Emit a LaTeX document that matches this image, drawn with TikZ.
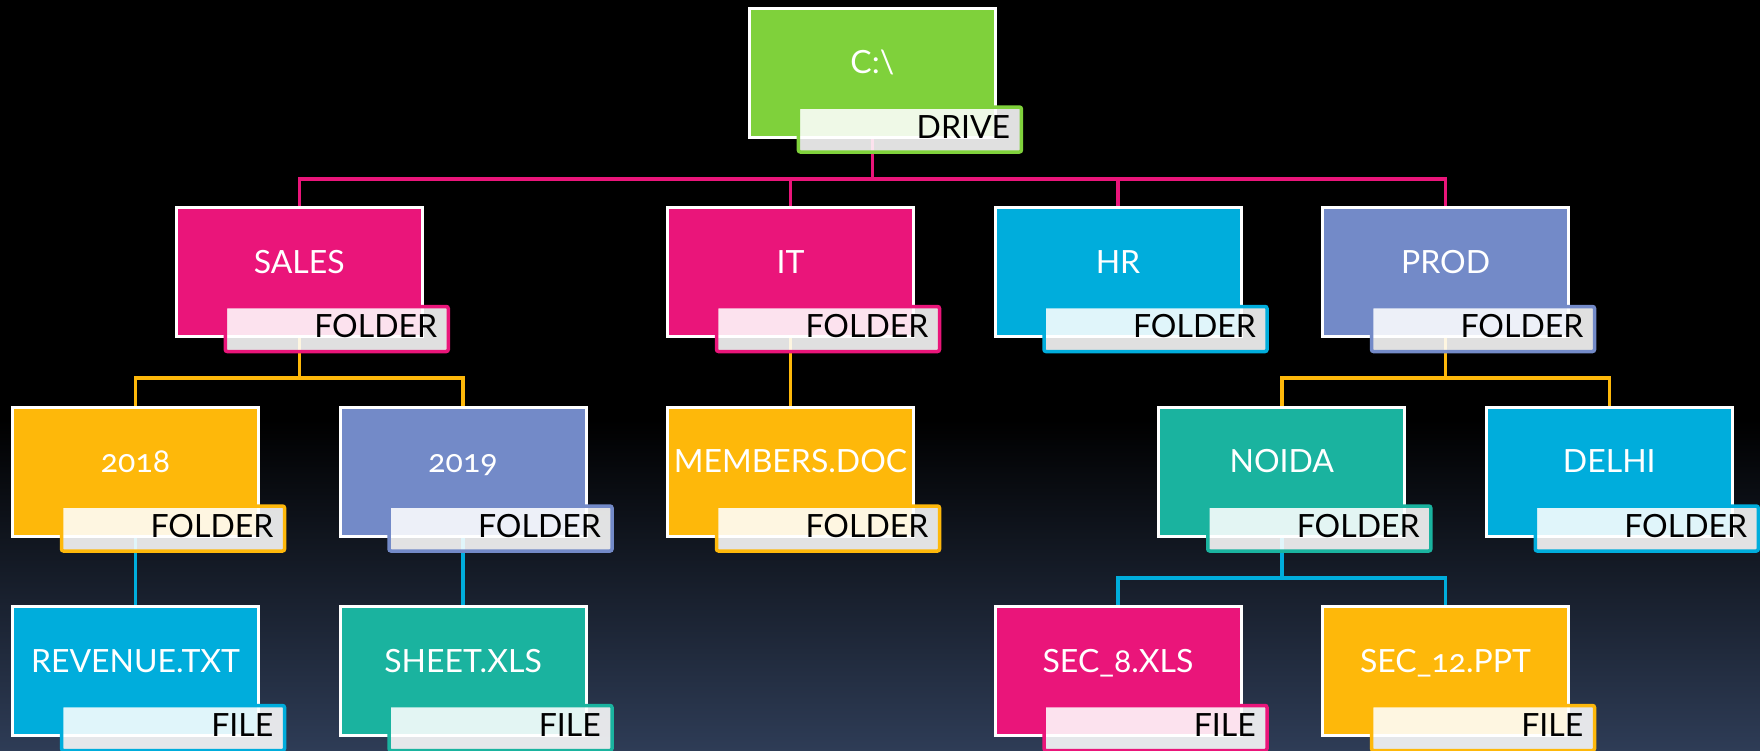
\documentclass[tikz,border=0pt]{standalone}
\usepackage{fontspec}
\setmainfont{Lato}[Numbers=OldStyle]
\usetikzlibrary{calc}
\definecolor{cgreen}{HTML}{7FD13B}
\definecolor{cpink}{HTML}{EA157A}
\definecolor{corange}{HTML}{FEB80A}
\definecolor{cblue}{HTML}{00ADDC}
\definecolor{cperi}{HTML}{738AC8}
\definecolor{cteal}{HTML}{1AB39F}
\definecolor{bgbot}{RGB}{46,60,86}
\pgfdeclareverticalshading{bgshade}{100bp}{color(0bp)=(bgbot); color(25bp)=(bgbot); color(47bp)=(black); color(100bp)=(black)}
\pgfdeclarelayer{bglayer}
\pgfdeclarelayer{lines}
\pgfsetlayers{bglayer,lines,main}
\newcommand{\dirnode}[6]{%
  \node[mainbox, fill=#4] (#1) at ({135.5+163.75*#2},{72.5+199.5*#3}) {};
  \node[maintext, anchor=base] (#1t) at ($(#1.center)+(0,1)$) {#5};
  \node[labbox, draw=#4] (#1l) at ($(#1.center)+(37.5,57)$) {};
  \node[labtext, anchor=base east] (#1lt) at ($(#1l.south east)+(-11,-14)$) {#6};
}
\newcommand{\linkto}[4]{%
  \begin{pgfonlayer}{lines}
  \draw[conn, draw=#1] (#2.south) |- (#3.north |- #4) -- (#3.north);
  \end{pgfonlayer}
}
\begin{document}
\begin{tikzpicture}[x=1pt,y=-1pt,
  mainbox/.style={draw=white, line width=3pt, minimum width=246pt, minimum height=129pt, inner sep=0pt, outer sep=0pt},
  maintext/.style={text=white, font=\fontsize{32}{38}\selectfont, inner sep=0pt},
  labbox/.style={fill=white, fill opacity=0.88, line width=3.5pt, rounded corners=2pt, minimum width=223pt, minimum height=45pt, inner sep=0pt, outer sep=0pt},
  labtext/.style={text=black, font=\fontsize{32}{38}\selectfont, inner sep=0pt},
  conn/.style={line width=3.5pt}]
\useasboundingbox (0,0) rectangle (1760,750);
\begin{pgfonlayer}{bglayer}
\shade[shading=bgshade] (0,0) rectangle (1760,750);
\end{pgfonlayer}
\coordinate (bus1) at (0,179);
\coordinate (bus2) at (0,378);
\coordinate (bus3) at (0,578);
% row 0
\dirnode{root}{4.5}{0}{cgreen}{C:\textbackslash}{DRIVE}
% row 1
\dirnode{sales}{1}{1}{cpink}{SALES}{FOLDER}
\dirnode{it}{4}{1}{cpink}{IT}{FOLDER}
\dirnode{hr}{6}{1}{cblue}{HR}{FOLDER}
\dirnode{prod}{8}{1}{cperi}{PROD}{FOLDER}
% row 2
\dirnode{ya}{0}{2}{corange}{2018}{FOLDER}
\dirnode{yb}{2}{2}{cperi}{2019}{FOLDER}
\dirnode{members}{4}{2}{corange}{MEMBERS.DOC}{FOLDER}
\dirnode{noida}{7}{2}{cteal}{NOIDA}{FOLDER}
\dirnode{delhi}{9}{2}{cblue}{DELHI}{FOLDER}
% row 3
\dirnode{revenue}{0}{3}{cblue}{REVENUE.TXT}{FILE}
\dirnode{sheet}{2}{3}{cteal}{SHEET.XLS}{FILE}
\dirnode{seca}{6}{3}{cpink}{SEC\_8.XLS}{FILE}
\dirnode{secb}{8}{3}{corange}{SEC\_12.PPT}{FILE}
% connectors
\linkto{cpink}{root}{sales}{bus1}
\linkto{cpink}{root}{it}{bus1}
\linkto{cpink}{root}{hr}{bus1}
\linkto{cpink}{root}{prod}{bus1}
\linkto{corange}{sales}{ya}{bus2}
\linkto{corange}{sales}{yb}{bus2}
\linkto{corange}{it}{members}{bus2}
\linkto{corange}{prod}{noida}{bus2}
\linkto{corange}{prod}{delhi}{bus2}
\linkto{cblue}{ya}{revenue}{bus3}
\linkto{cblue}{yb}{sheet}{bus3}
\linkto{cblue}{noida}{seca}{bus3}
\linkto{cblue}{noida}{secb}{bus3}
\end{tikzpicture}
\end{document}
